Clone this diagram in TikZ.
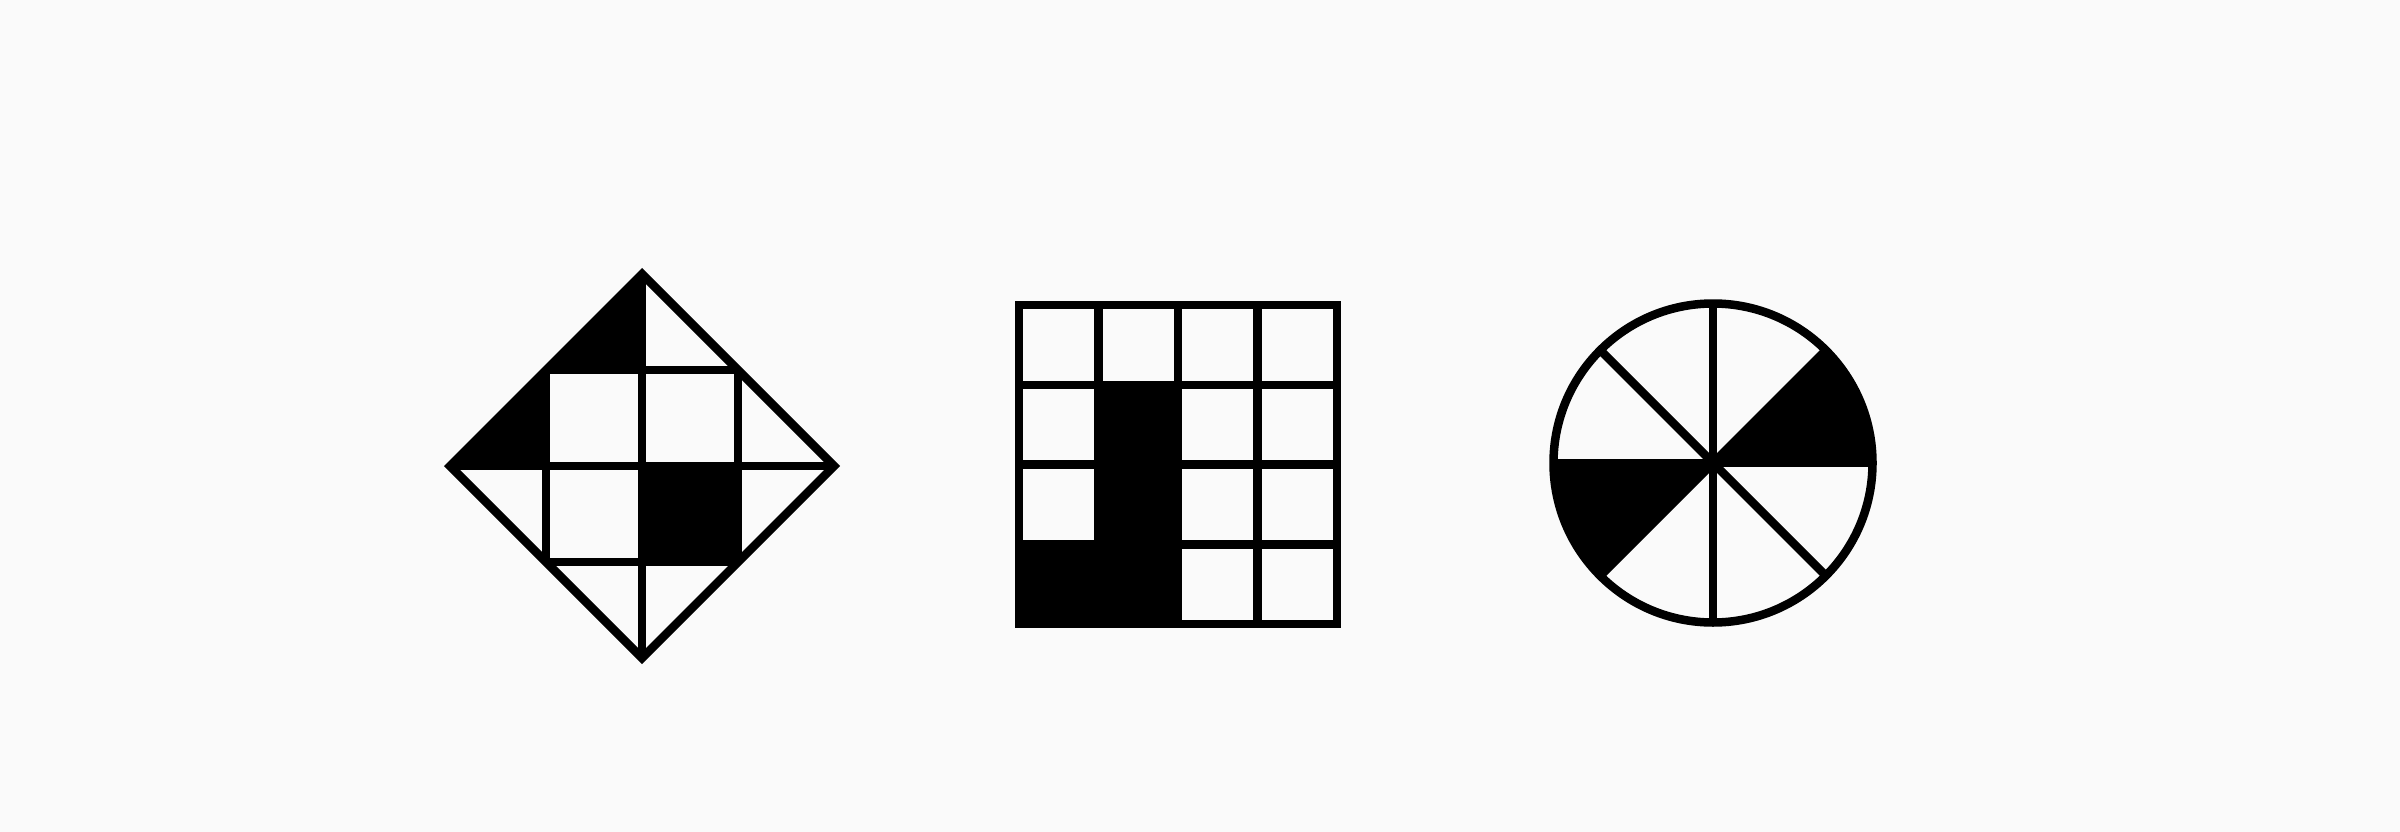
\documentclass[tikz,border=0pt]{standalone}
\usetikzlibrary{calc}
\definecolor{bg}{HTML}{FAFAFA}
\tikzset{
  ln/.style={line width=8.5pt, draw=black, line join=miter},
  blk/.style={fill=black}
}
\begin{document}
\begin{tikzpicture}[x=1pt,y=-1pt]
\fill[bg] (0,0) rectangle (2400,832);
\useasboundingbox (0,0) rectangle (2400,832);
% ---------- diamond ----------
\coordinate (dT) at (642,274);
\coordinate (dL) at (450,466);
\coordinate (dB) at (642,658);
\coordinate (dR) at (834,466);
\fill[blk] (dL) -- (dT) -- (642,370) -- (546,370) -- (546,466) -- cycle;
\fill[blk] (642,466) rectangle (738,562);
\begin{scope}
  \clip (dT) -- (dR) -- (dB) -- (dL) -- cycle;
  \foreach \x in {546,642,738} \draw[ln] (\x,260) -- (\x,672);
  \foreach \y in {370,466,562} \draw[ln] (436,\y) -- (848,\y);
\end{scope}
\draw[ln] (dT) -- (dR) -- (dB) -- (dL) -- cycle;
% ---------- grid ----------
\coordinate (gA) at (1019,305);
\coordinate (gB) at (1337,624);
\fill[blk] (1098.5,384.75) rectangle (1178,624);
\fill[blk] (1019,544.25) rectangle (1098.5,624);
\foreach \x in {1098.5,1178,1257.5} \draw[ln] (\x,305) -- (\x,624);
\foreach \y in {384.75,464.5,544.25} \draw[ln] (1019,\y) -- (1337,\y);
\draw[ln] (gA) rectangle (gB);
% ---------- circle ----------
\coordinate (c) at (1713,463);
\def\R{159.5}
\fill[blk] (c) -- ++(0:\R) arc[start angle=0, end angle=-45, radius=\R] -- cycle;
\fill[blk] (c) -- ++(180:\R) arc[start angle=180, end angle=135, radius=\R] -- cycle;
\foreach \a in {0,45,90,135} \draw[ln] ($(c)+(\a:\R)$) -- ($(c)+(\a+180:\R)$);
\draw[ln] (c) circle[radius=\R];
\end{tikzpicture}
\end{document}
